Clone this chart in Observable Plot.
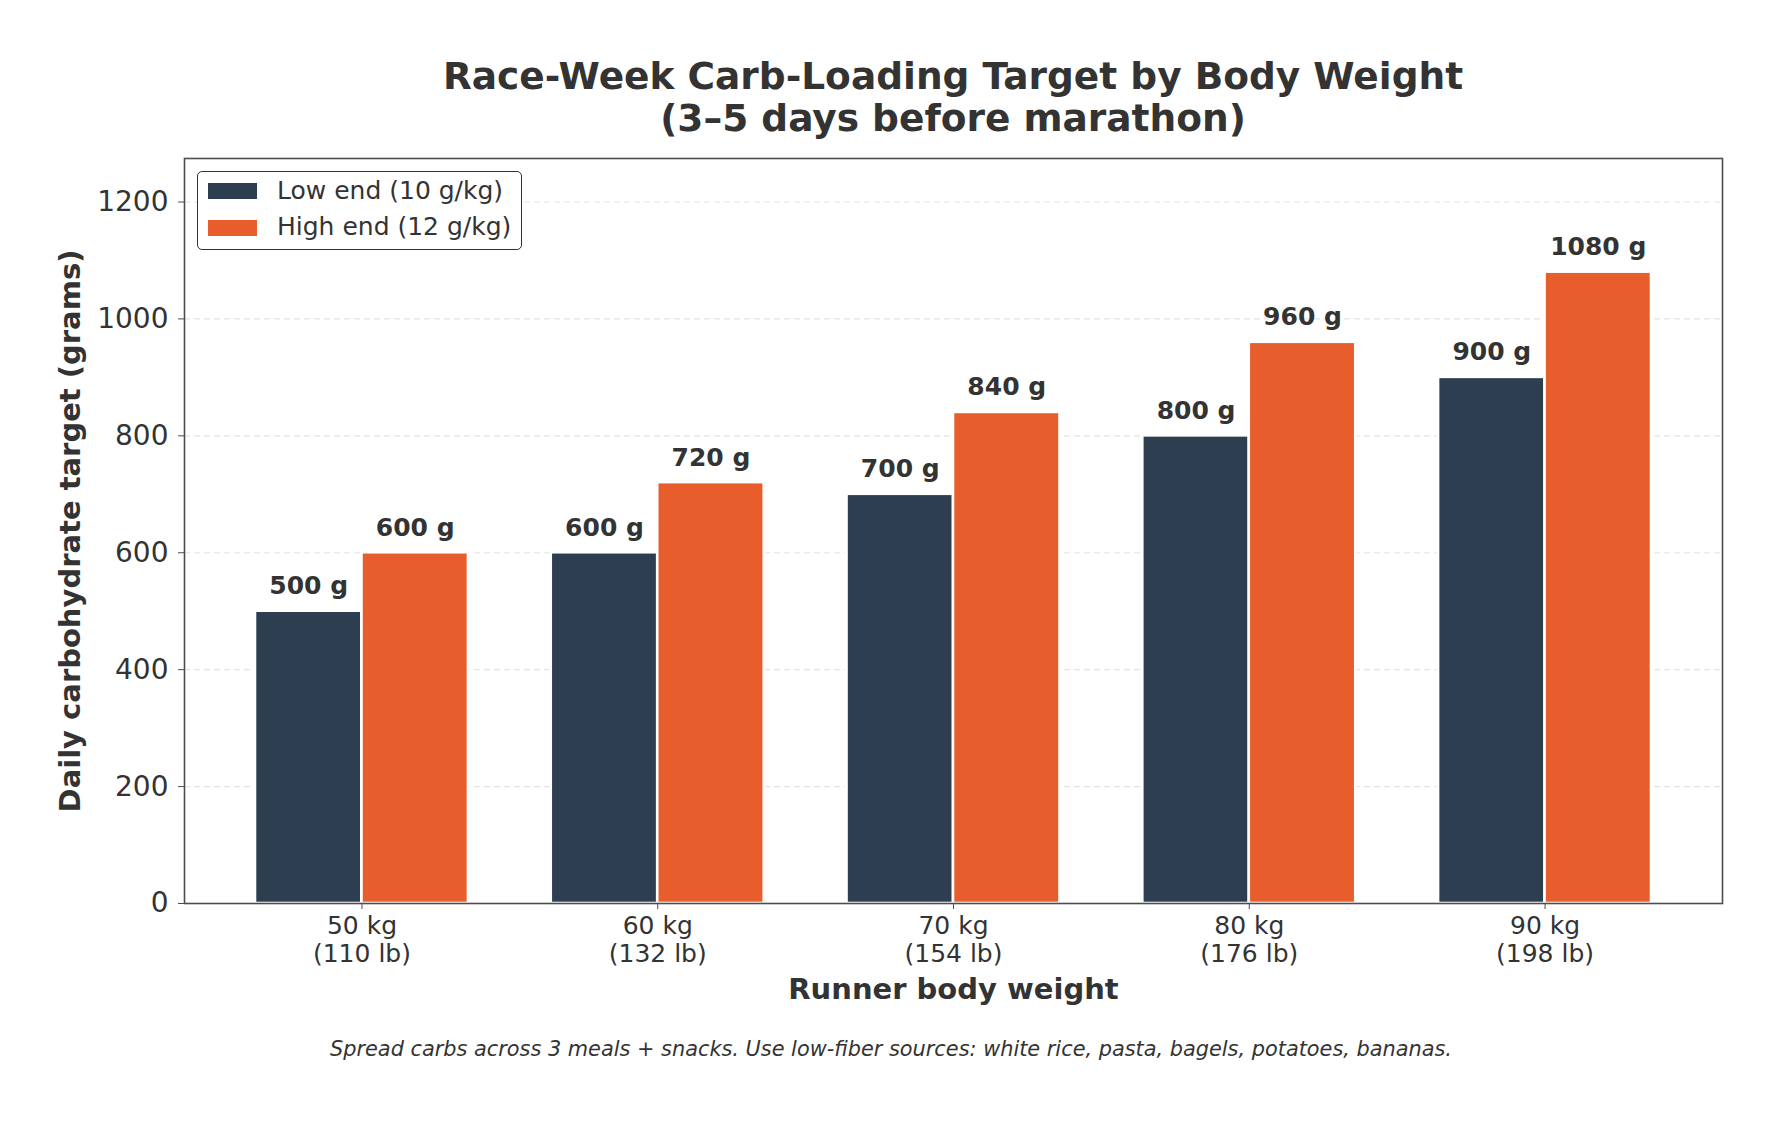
<!DOCTYPE html>
<html>
<head>
<meta charset="utf-8">
<script src="https://cdn.jsdelivr.net/npm/d3@7"></script>
<script src="https://cdn.jsdelivr.net/npm/@observablehq/plot@0.6"></script>
<style>
  html, body { margin: 0; padding: 0; background: #fff; }
  body { font-family: "DejaVu Sans", sans-serif; color: #333; }
  #wrap { position: relative; width: 1782px; height: 1121px; overflow: hidden; background: #fff; }
  #chart { position: absolute; left: 0; top: 0; }
  #title { position: absolute; left: 184px; width: 1538px; top: 55px; text-align: center;
           font-weight: bold; font-size: 37.5px; line-height: 42px; color: #333; white-space: pre; }
  #caption { position: absolute; left: 0; width: 1782px; top: 1039px; text-align: center;
             font-style: italic; font-size: 20.85px; line-height: 21px; color: #333; white-space: pre; }
  #legend { position: absolute; left: 197px; top: 171px; width: 325px; height: 79px;
            border: 1.5px solid #333; border-radius: 5px; background: rgba(255,255,255,0.95); box-sizing: border-box; }
  .sw { position: absolute; left: 10px; width: 49px; height: 16px; }
  .lt { position: absolute; left: 79px; font-size: 25px; line-height: 25px; color: #333; white-space: pre; }
</style>
</head>
<body>
<div id="wrap">
  <div id="chart"></div>
  <div id="title"></div>
  <div id="legend"></div>
  <div id="caption"></div>
</div>
<script>
// ---- data ----
const categories = ["50 kg", "60 kg", "70 kg", "80 kg", "90 kg"];
const poundLabels = ["(110 lb)", "(132 lb)", "(154 lb)", "(176 lb)", "(198 lb)"];
const lowEnd = [500, 600, 700, 800, 900];      // 10 g/kg
const highEnd = [600, 720, 840, 960, 1080];    // 12 g/kg
const seriesNames = ["Low end (10 g/kg)", "High end (12 g/kg)"];
const seriesColors = ["#2c3e50", "#e85d2c"];
const yTicks = [0, 200, 400, 600, 800, 1000, 1200];
const titleLines = ["Race-Week Carb-Loading Target by Body Weight", "(3\u20135 days before marathon)"];
const captionText = "Spread carbs across 3 meals + snacks. Use low-fiber sources: white rice, pasta, bagels, potatoes, bananas.";
const xLabel = "Runner body weight";
const yLabel = "Daily carbohydrate target (grams)";

// ---- table for Plot ----
const barWidth = 0.36;
const rows = categories.flatMap((c, i) => [
  {i, series: seriesNames[0], x1: i - barWidth, x2: i, v: lowEnd[i]},
  {i, series: seriesNames[1], x1: i, x2: i + barWidth, v: highEnd[i]}
]);

const chart = Plot.plot({
  width: 1782,
  height: 1121,
  marginTop: 158,
  marginBottom: 218,
  marginLeft: 184,
  marginRight: 60,
  style: {fontFamily: "DejaVu Sans, sans-serif", color: "#333", background: "transparent", overflow: "visible"},
  x: {type: "linear", domain: [-0.6, 4.6]},
  y: {domain: [0, Math.max(...highEnd) * 1.18]},
  color: {domain: seriesNames, range: seriesColors},
  marks: [
    Plot.gridY(yTicks.filter(t => t > 0), {stroke: "#cccccc", strokeOpacity: 0.55, strokeDasharray: "6,4", strokeWidth: 1.2}),
    Plot.rectY(rows, {x1: "x1", x2: "x2", y: "v", fill: "series", stroke: "white", strokeWidth: 2.6}),
    Plot.text(rows, {x: d => (d.x1 + d.x2) / 2, y: "v", text: d => `${d.v} g`, lineAnchor: "bottom", dy: -17,
                     fontWeight: "bold", fontSize: 25, fill: "#333"}),
    Plot.axisX({ticks: [0, 1, 2, 3, 4], tickFormat: i => categories[i] + "\n" + poundLabels[i],
                fontSize: 25, tickSize: 6, tickPadding: 5, lineHeight: 1.1, stroke: "#4d4d4d", fill: "#333", label: null}),
    Plot.axisX({ticks: [], label: xLabel, labelAnchor: "center", labelOffset: 95, labelArrow: "none",
                fontSize: 29, fontWeight: "bold", fill: "#333"}),
    Plot.axisY({ticks: yTicks, tickFormat: d => String(d), tickSize: 6, tickPadding: 10, fontSize: 28,
                stroke: "#4d4d4d", fill: "#333", label: null}),
    Plot.axisY({ticks: [], label: yLabel, labelAnchor: "center", labelOffset: 125, labelArrow: "none",
                fontSize: 29, fontWeight: "bold", fill: "#333"}),
    Plot.frame({stroke: "#4d4d4d", strokeWidth: 1.6})
  ]
});
document.getElementById("chart").appendChild(chart);

// ---- title / caption / legend ----
document.getElementById("title").textContent = titleLines.join("\n");
document.getElementById("caption").textContent = captionText;
const legend = document.getElementById("legend");
seriesNames.forEach((name, k) => {
  const sw = document.createElement("div");
  sw.className = "sw";
  sw.style.top = (k === 0 ? 11 : 48) + "px";
  sw.style.background = seriesColors[k];
  legend.appendChild(sw);
  const t = document.createElement("div");
  t.className = "lt";
  t.style.top = (k === 0 ? 6 : 42) + "px";
  t.textContent = name;
  legend.appendChild(t);
});
</script>
</body>
</html>
